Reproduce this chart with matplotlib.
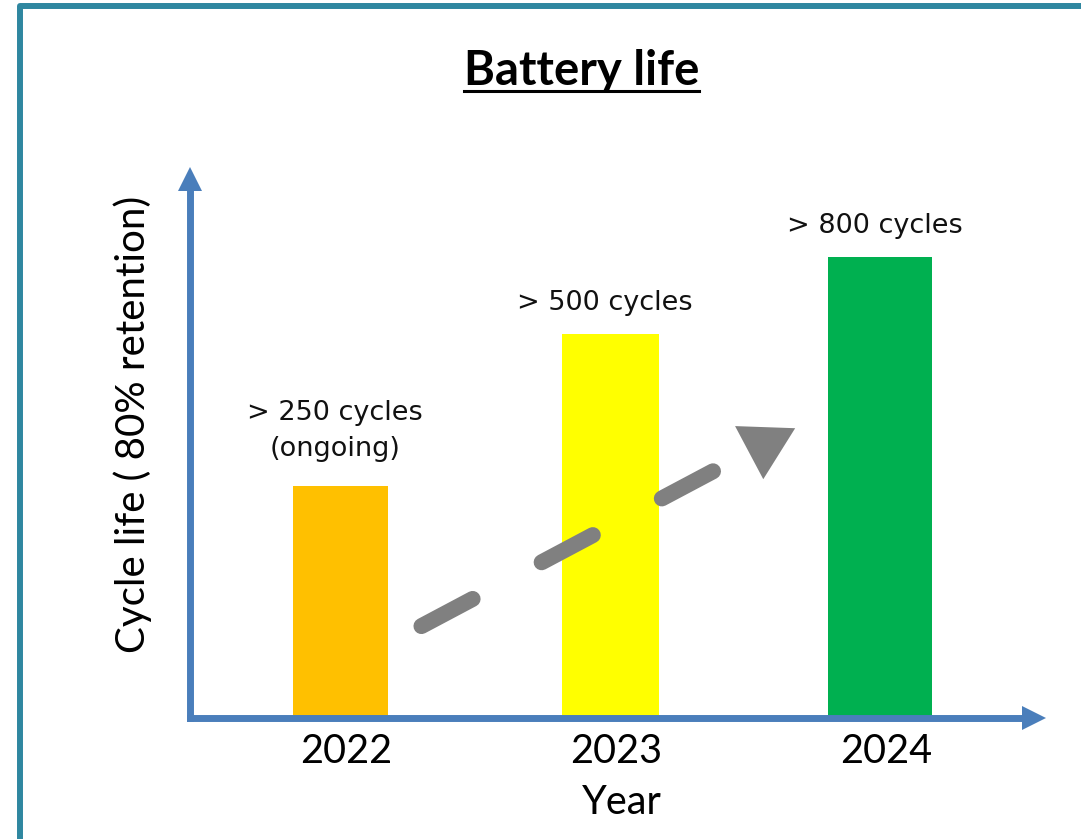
import math
import matplotlib
matplotlib.use("Agg")
import matplotlib.pyplot as plt
import matplotlib.transforms as mtransforms
from matplotlib.lines import Line2D

# bar chart data
years = ["2022", "2023", "2024"]
bar_height = [232, 384, 461]          # relative height, the y axis carries no scale
bar_labels = ["> 250 cycles\n(ongoing)", "> 500 cycles", "> 800 cycles"]

# styles
bar_colors = ["#FFC000", "#FFFF00", "#00B050"]
bar_widths = [0.352, 0.359, 0.385]
label_pad = [24, 18, 18]
AXIS_BLUE = "#4A7EBB"
FRAME_TEAL = "#2F87A0"
TREND_GREY = "#808080"

fig = plt.figure(figsize=(10.81, 8.39), dpi=100)
ax = fig.add_axes([0.1758, 0.1442, 0.7803, 0.6430])

x = list(range(len(years)))
ax.bar(x, bar_height, width=bar_widths, color=bar_colors, zorder=2)
ax.set_xlim(-0.557, 2.567)
ax.set_ylim(0, 540)

# value labels above each bar
for xi, h, lab, pad in zip(x, bar_height, bar_labels, label_pad):
    ax.text(xi - 0.02, h + pad, lab, ha="center", va="bottom", fontsize=19.5,
            family="DejaVu Sans", linespacing=1.5, color="#111111")

# axes drawn as blue arrows
for side in ("top", "right"):
    ax.spines[side].set_visible(False)
for side in ("left", "bottom"):
    ax.spines[side].set_linewidth(5)
    ax.spines[side].set_color(AXIS_BLUE)
    ax.spines[side].set_capstyle("projecting")
ax.plot(1, 0, ">", transform=ax.transAxes, clip_on=False, ms=17,
        color=AXIS_BLUE, mew=0)
ax.plot(0, 1, "^", transform=ax.transAxes, clip_on=False, ms=17,
        color=AXIS_BLUE, mew=0)

ax.set_yticks([])
ax.set_xticks(x, years, fontsize=28.5, family="Lato")
ax.tick_params(axis="x", length=0, pad=11)
nudge = mtransforms.ScaledTranslation(6 / 100, 0, fig.dpi_scale_trans)
for lbl in ax.get_xticklabels():
    lbl.set_transform(lbl.get_transform() + nudge)

ax.set_xlabel("Year", fontsize=28.5, family="Lato")
ax.xaxis.set_label_coords(0.5116, -0.1223)
ax.set_ylabel("Cycle life ( 80% retention)", fontsize=29, family="Lato")
ax.yaxis.set_label_coords(-0.045, 0.545)

# dashed grey trend arrow
trend_x = [0.30, 1.38]
trend_y = [92, 247]
head_xy = (1.57, 274)
ax.plot(trend_x, trend_y, color=TREND_GREY, lw=11.5, ls=(0, (3.63, 4.89)),
        dash_capstyle="round", zorder=3)
p0 = ax.transData.transform((trend_x[0], trend_y[0]))
p1 = ax.transData.transform((trend_x[1], trend_y[1]))
ang = math.degrees(math.atan2(p1[1] - p0[1], p1[0] - p0[0]))
ax.plot(*head_xy, marker=(3, 0, ang - 90), ms=50, color=TREND_GREY,
        mew=0, zorder=3)

# title with underline
title = fig.text(581.5 / 1081, 1 - 49 / 839, "Battery life", ha="center",
                 va="top", fontsize=34, weight="bold", family="Lato")
fig.canvas.draw()
bb = title.get_window_extent().transformed(fig.transFigure.inverted())
fig.add_artist(Line2D([bb.x0, bb.x1], [1 - 91 / 839] * 2,
                      transform=fig.transFigure, color="black", lw=2.2))

# teal frame on the left and top edge
fig.add_artist(Line2D([20 / 1081, 20 / 1081, 1], [0, 1 - 6 / 839, 1 - 6 / 839],
                      transform=fig.transFigure, color=FRAME_TEAL, lw=4.3,
                      solid_joinstyle="round"))

fig.savefig("out.png", dpi=100)
